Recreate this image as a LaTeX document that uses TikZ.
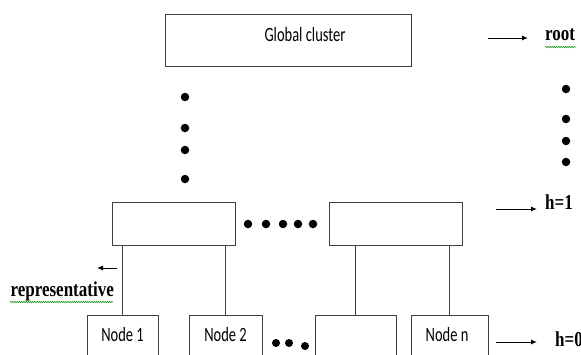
\documentclass[tikz,border=0pt]{standalone}
\usepackage{graphicx}
\usepackage{fontspec}
\setmainfont{Liberation Serif}
\newfontfamily\boxfont{Carlito}
\usetikzlibrary{arrows.meta,decorations.pathmorphing}
% text in this drawing is set a little taller than wide
\newcommand\stretchsans[1]{\scalebox{1}[1.4]{#1}}
\newcommand\stretchserif[1]{\scalebox{1}[1.25]{#1}}

\begin{document}
\begin{tikzpicture}[x=1pt,y=-1pt,
  box/.style={draw=black!75, line width=0.8pt, rectangle, inner sep=0pt},
  boxtext/.style={font=\boxfont\fontsize{14.5}{16}\selectfont, inner sep=0pt},
  lvl/.style={font=\bfseries\fontsize{17}{19}\selectfont, inner sep=0pt, anchor=west},
  link/.style={draw=black!75, line width=0.7pt},
  pointer/.style={line width=1pt, -{Latex[length=6pt,width=5pt]}},
  dot/.style={circle, fill=black, inner sep=0pt, minimum size=8.5pt},
  squiggle/.style={draw=green!55!black, line width=0.5pt, decorate,
    decoration={snake, amplitude=0.7pt, segment length=2.2pt}}
]
\useasboundingbox (0,0) rectangle (581,354);
\clip (0,0) rectangle (581,354);

% root cluster
\node[box, minimum width=246pt, minimum height=52pt] (global) at (288,40) {};
\node[boxtext] (globaltext) at (305,35) {\stretchsans{Global cluster}};

% clusters at height 1
\node[box, minimum width=123pt, minimum height=43pt] (left1) at (173.5,223.5) {};
\node[box, minimum width=133pt, minimum height=43pt] (right1) at (395.5,223.5) {};

% leaves at height 0
\node[box, minimum width=71pt, minimum height=60pt] (leaf1) at (122.5,345) {};
\node[box, minimum width=73pt, minimum height=60pt] (leaf2) at (225.5,345) {};
\node[box, minimum width=81pt, minimum height=60pt] (leaf3) at (355.5,345) {};
\node[box, minimum width=77pt, minimum height=60pt] (leafn) at (449.5,345) {};
\node[boxtext] (leaf1text) at (122.5,335) {\stretchsans{Node 1}};
\node[boxtext] (leaf2text) at (225.5,335) {\stretchsans{Node 2}};
\node[boxtext] (leafntext) at (447,335) {\stretchsans{Node n}};

% tree links
\draw[link] (leaf1.north) -- (leaf1.north |- left1.south);
\draw[link] (leaf2.north) -- (leaf2.north |- left1.south);
\draw[link] (leaf3.north) -- (leaf3.north |- right1.south);
\draw[link] (leafn.north) -- (leafn.north |- right1.south);

% ellipsis dots
\foreach \y [count=\i] in {97,128,150,179} \node[dot] (vdot\i) at (185,\y) {};
\foreach \y [count=\i] in {89,119,141,162} \node[dot] (sdot\i) at (566,\y) {};
\foreach \x [count=\i] in {248,266,283,298,313} \node[dot] (hdot\i) at (\x,224) {};
\node[dot, minimum size=8pt] (bdot1) at (276,343) {};
\node[dot, minimum size=8pt] (bdot2) at (289,343) {};
\node[dot, minimum size=8pt] (bdot3) at (305,346) {};

% level labels
\node[lvl] (root) at (545,35) {\stretchserif{root}};
\node[lvl] (hone) at (545,202) {\stretchserif{h=1}};
\node[lvl] (hzero) at (555,339) {\stretchserif{h=0}};
\node[lvl, anchor=east] (rep) at (114,291) {\stretchserif{representative}};

\coordinate (rootfrom) at (488,38);  \coordinate (rootto) at (528,38);
\coordinate (honefrom) at (496,209); \coordinate (honeto) at (537,209);
\coordinate (hzerofrom) at (496,342); \coordinate (hzeroto) at (537,342);
\coordinate (repfrom) at (117,268);  \coordinate (repto) at (97,268);
\draw[pointer] (rootfrom) -- (rootto);
\draw[pointer] (honefrom) -- (honeto);
\draw[pointer] (hzerofrom) -- (hzeroto);
\draw[pointer] (repfrom) -- (repto);

% spelling marks under the serif words
\coordinate (rootsqa) at (545,47);  \coordinate (rootsqb) at (576,47);
\coordinate (repsqa) at (10,302);   \coordinate (repsqb) at (113,302);
\draw[squiggle] (rootsqa) -- (rootsqb);
\draw[squiggle] (repsqa) -- (repsqb);
\end{tikzpicture}
\end{document}
